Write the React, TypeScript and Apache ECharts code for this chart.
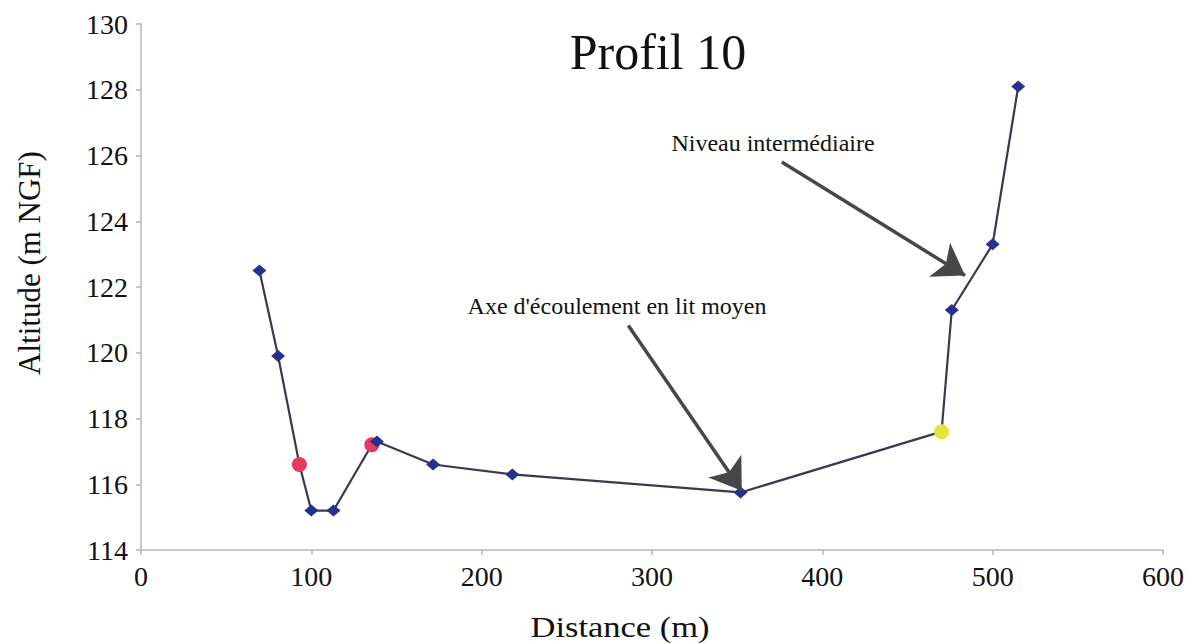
import React, { useEffect, useRef } from "react";
import * as echarts from "echarts";

// Profil 10 — distance (m) vs altitude (m NGF)
const distances = [69.5, 80.5, 93, 100, 113, 135.5, 138.5, 171.5, 218, 352, 470, 476, 500, 515];
const altitudes = [122.5, 119.9, 116.6, 115.2, 115.2, 117.2, 117.3, 116.6, 116.3, 115.75, 117.6, 121.3, 123.3, 128.1];
const markerKinds = ["d", "d", "red", "d", "d", "red", "d", "d", "d", "d", "yellow", "d", "d", "d"];

const xTicks = { min: 0, max: 600, interval: 100 };
const yTicks = { min: 114, max: 130, interval: 2 };

// annotation arrows: [tail, tip] in data coordinates
const arrowAxe = [[286.1, 120.83], [352.7, 115.8]];
const arrowNiveau = [[376.2, 125.8], [483.8, 122.35]];

const titleText = "Profil 10";
const xName = "Distance (m)";
const yName = "Altitude (m NGF)";
const noteAxe = "Axe d'écoulement en lit moyen";
const noteNiveau = "Niveau intermédiaire";

const SERIF = "Liberation Serif";

const markerStyle: Record<string, any> = {
  d: { symbol: "diamond", symbolSize: [14, 12], itemStyle: { color: "#27308f" } },
  red: { symbol: "circle", symbolSize: 15, itemStyle: { color: "#e53b61" } },
  yellow: { symbol: "circle", symbolSize: 15, itemStyle: { color: "#e6e33c" } },
};

export default function App() {
  const ref = useRef<HTMLDivElement>(null);
  useEffect(() => {
    if (!ref.current) return;
    const chart = echarts.init(ref.current, null, { renderer: "svg" });
    const data = distances.map((x, i) => ({
      value: [x, altitudes[i]],
      ...markerStyle[markerKinds[i]],
    }));
    const axisLine = { show: true, lineStyle: { color: "#b5b5b5", width: 1.5 } };
    const textStyle = (size: number) => ({
      fontFamily: SERIF,
      fontSize: size,
      fill: "#111",
      align: "center",
      verticalAlign: "middle",
    });
    chart.setOption({
      animation: false,
      backgroundColor: "#ffffff",
      grid: { left: 141, right: 27, top: 24, bottom: 93 },
      xAxis: {
        type: "value",
        min: xTicks.min,
        max: xTicks.max,
        interval: xTicks.interval,
        axisLine,
        axisTick: { show: true, length: 5, lineStyle: { color: "#b5b5b5", width: 1.5 } },
        splitLine: { show: false },
        axisLabel: { fontFamily: SERIF, fontSize: 28, color: "#111", margin: 12 },
      },
      yAxis: {
        type: "value",
        min: yTicks.min,
        max: yTicks.max,
        interval: yTicks.interval,
        axisLine,
        axisTick: { show: true, length: 5, lineStyle: { color: "#b5b5b5", width: 1.5 } },
        splitLine: { show: false },
        axisLabel: { fontFamily: SERIF, fontSize: 28, color: "#111", margin: 13 },
      },
      series: [
        {
          type: "line",
          data,
          lineStyle: { color: "#363a55", width: 2.2 },
          z: 3,
          markLine: {
            silent: true,
            symbol: ["none", "arrow"],
            symbolSize: 30,
            label: { show: false },
            lineStyle: { color: "#474747", width: 3.5, type: "solid" },
            emphasis: { disabled: true },
            data: [
              [{ coord: arrowAxe[0] }, { coord: arrowAxe[1] }],
              [{ coord: arrowNiveau[0] }, { coord: arrowNiveau[1] }],
            ],
          },
        },
      ],
      graphic: [
        { type: "text", x: 658, y: 52, style: { text: titleText, ...textStyle(50) } },
        { type: "text", x: 617, y: 306, style: { text: noteAxe, ...textStyle(24) } },
        { type: "text", x: 773, y: 143, style: { text: noteNiveau, ...textStyle(24) } },
        { type: "text", x: 620, y: 627, scaleX: 1.15, style: { text: xName, ...textStyle(30) } },
        { type: "text", x: 29, y: 263, rotation: Math.PI / 2, style: { text: yName, ...textStyle(31) } },
      ],
    });
    return () => chart.dispose();
  }, []);
  return (
    <div
      ref={ref}
      style={{ position: "fixed", left: 0, top: 0, width: 1190, height: 643, background: "#fff" }}
    />
  );
}
